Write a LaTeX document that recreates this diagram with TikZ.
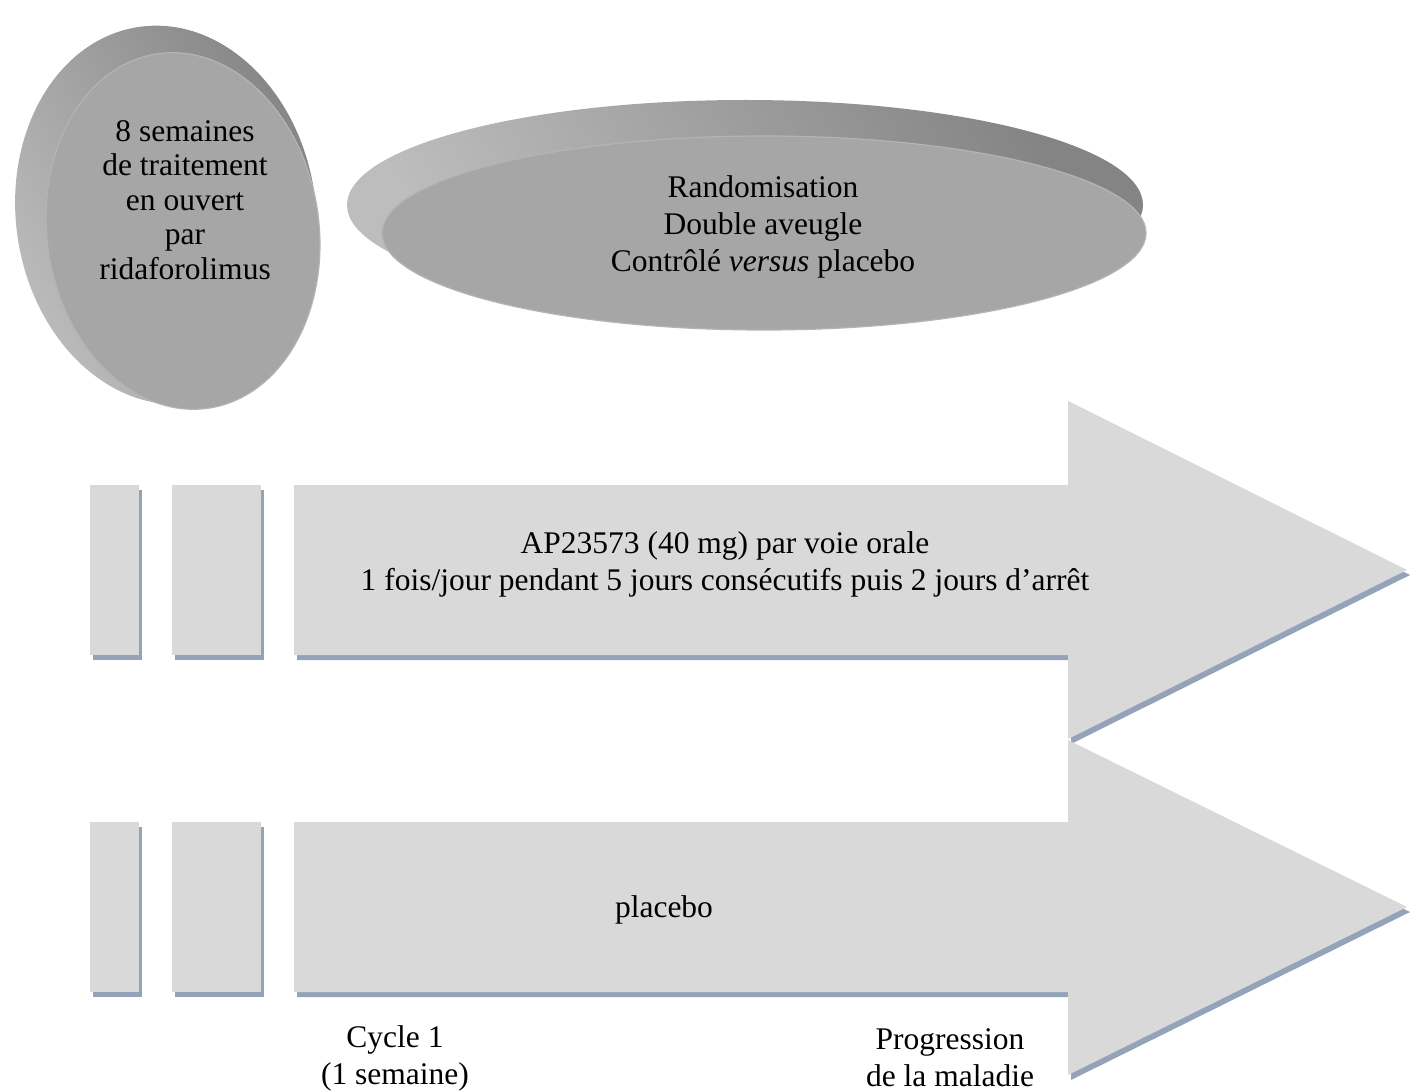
\documentclass[tikz,border=0pt]{standalone}
\usepackage{fontspec}
\setmainfont{Liberation Serif}
\definecolor{barfill}{HTML}{D9D9D9}
\definecolor{shadowc}{HTML}{95A3BA}
\definecolor{frontfill}{HTML}{A6A6A6}
\definecolor{rimlight}{HTML}{BDBDBD}
\definecolor{rimdark}{HTML}{848484}
\definecolor{edgec}{HTML}{B4B4B4}
\begin{document}
\begin{tikzpicture}[x=1pt,y=-1pt,
  txt/.style={font=\fontsize{31.5}{37}\selectfont, align=center, inner sep=0pt, text=black},
  barbox/.style={fill=barfill, draw=none},
  shadowbox/.style={fill=shadowc, draw=none},
  rim/.style={left color=rimlight, right color=rimdark, shading angle=120},
  face/.style={fill=frontfill, draw=edgec, line width=1.2pt}]
\useasboundingbox (0,0) rectangle (1411,1091);
\fill[white] (0,0) rectangle (1411,1091);

% left disc
\path[rim] (166,215) ellipse [x radius=150pt, y radius=190pt, rotate=8];
\path[face] (183,231) ellipse [x radius=136pt, y radius=179pt, rotate=8];
\node[txt, font=\fontsize{31.5}{34.5}\selectfont] (disc) at (185,200) {8 semaines\\de traitement\\en ouvert\\par\\ridaforolimus};

% top ellipse
\path[rim] (745,205) ellipse [x radius=398pt, y radius=105pt];
\path[face] (764,233) ellipse [x radius=382pt, y radius=97pt];
\node[txt] (rando) at (763,227) {Randomisation\\Double aveugle\\Contr\^ol\'e \textit{versus} placebo};

% row 1
\foreach \dx/\dy/\s in {3/5/shadowbox, 0/0/barbox} {
  \begin{scope}[shift={(\dx,\dy)}]
  \path[\s] (90,485) rectangle (139,655);
  \path[\s] (172,485) rectangle (261,655);
  \path[\s] (294,485) -- (1068,485) -- (1068,401) -- (1407,570) -- (1068,739) -- (1068,655) -- (294,655) -- cycle;
  \end{scope}
}
\node[txt] (drug) at (725,564) {AP23573 (40 mg) par voie orale\\1 fois/jour pendant 5 jours cons\'ecutifs puis 2 jours d’arr\^et};

% row 2
\foreach \dx/\dy/\s in {3/5/shadowbox, 0/0/barbox} {
  \begin{scope}[shift={(\dx,\dy)}]
  \path[\s] (90,822) rectangle (139,992);
  \path[\s] (172,822) rectangle (261,992);
  \path[\s] (294,822) -- (1068,822) -- (1068,740) -- (1407,907) -- (1068,1075) -- (1068,992) -- (294,992) -- cycle;
  \end{scope}
}
\node[txt] (plac) at (664,910) {placebo};

% labels
\node[txt] (cycle) at (395,1058) {Cycle 1\\(1 semaine)};
\node[txt] (prog) at (950,1058) {Progression\\de la maladie};
\end{tikzpicture}
\end{document}
